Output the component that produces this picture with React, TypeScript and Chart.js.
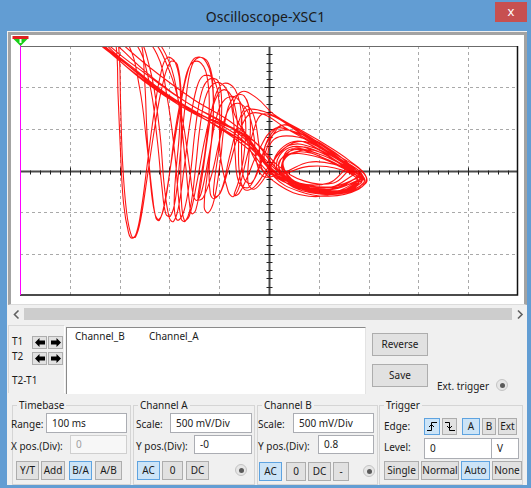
import React, { useEffect, useRef } from 'react';
import { Chart, registerables } from 'chart.js';
Chart.register(...registerables);

type P = [number, number];

// Axis range in divisions (B/A mode: x = Channel A, y = Channel B)
const xRange: P = [-5, 5];
const yRange: P = [-3, 3];
const xGridDivs = [-4, -3, -2, -1, 1, 2, 3, 4];
const yGridDivs = [-2, -1, 1, 2];

const orbit1: P[] = [[1.85,-0.2],[1.3,-0.45],[0.6,-0.35],[0.0,0.05],[-0.35,0.6],[-0.9,1.15],[-1.6,1.6],[-2.3,2.2],[-2.9,2.85],[-3.3,3.4],[-3.15,3.8],[-3.02,3.0],[-2.98,1.6],[-2.94,0.2],[-2.86,-1.0],[-2.76,-1.58],[-2.68,-1.6],[-2.58,-1.2],[-2.45,-0.2],[-2.3,1.0],[-2.15,2.0],[-1.98,2.62],[-1.84,2.55],[-1.76,1.7],[-1.77,0.4],[-1.76,-0.7],[-1.7,-1.2],[-1.6,-1.1],[-1.45,-0.3],[-1.28,0.8],[-1.08,1.7],[-0.9,1.95],[-0.72,1.7],[-0.62,0.9],[-0.6,0.0],[-0.5,-0.45],[-0.3,-0.4],[0.0,0.1],[0.4,0.6],[0.9,0.55],[1.4,0.2],[1.8,-0.1],[1.75,-0.35],[1.2,-0.5],[0.5,-0.3],[0.1,0.2],[0.5,0.7],[1.1,0.45],[1.7,0.0],[1.9,-0.22]];
const orbit2: P[] = [[1.9,-0.22],[1.4,-0.5],[0.7,-0.45],[0.1,-0.1],[-0.25,0.5],[-0.7,1.0],[-1.4,1.35],[-2.1,1.85],[-2.8,2.5],[-3.4,3.1],[-3.6,3.5],[-3.3,3.6],[-2.85,3.1],[-2.6,2.0],[-2.45,0.6],[-2.35,-0.5],[-2.27,-1.15],[-2.2,-1.2],[-2.1,-0.8],[-1.95,0.3],[-1.8,1.4],[-1.65,2.3],[-1.5,2.7],[-1.3,2.68],[-1.15,2.2],[-1.12,1.2],[-1.2,0.1],[-1.18,-0.55],[-1.1,-0.68],[-0.95,-0.45],[-0.8,0.3],[-0.6,1.2],[-0.45,1.55],[-0.3,1.3],[-0.2,0.6],[-0.12,0.0],[0.2,-0.1],[0.8,0.1],[1.5,0.0],[1.8,-0.3],[1.4,-0.55],[0.7,-0.4],[0.3,0.0],[0.4,0.5],[1.0,0.4],[1.6,0.05],[1.85,-0.15]];
const orbit3: P[] = [[1.85,-0.15],[1.2,-0.4],[0.4,-0.2],[-0.1,0.3],[-0.5,0.85],[-1.2,1.25],[-2.0,1.75],[-2.7,2.35],[-3.3,2.95],[-3.7,3.4],[-3.4,3.6],[-2.7,3.3],[-2.4,2.5],[-2.2,1.0],[-2.1,-0.4],[-2.0,-1.15],[-1.92,-1.23],[-1.82,-0.9],[-1.7,0.1],[-1.58,1.2],[-1.45,2.0],[-1.32,2.28],[-1.12,2.22],[-1.0,1.6],[-0.98,0.4],[-0.82,-0.5],[-0.72,-0.63],[-0.6,-0.4],[-0.45,0.3],[-0.3,1.0],[-0.15,1.35],[0.1,1.3],[0.5,1.0],[1.0,0.6],[1.5,0.2],[1.88,-0.2],[1.5,-0.5],[0.9,-0.5],[0.4,-0.25],[0.2,0.2],[0.6,0.45],[1.2,0.25],[1.7,-0.1]];
const orbit4: P[] = [[1.7,-0.1],[1.25,-0.4],[0.6,-0.35],[0.05,0.05],[-0.35,0.55],[-1.0,1.05],[-1.7,1.5],[-2.4,2.05],[-3.1,2.75],[-3.5,3.2],[-3.45,3.6],[-2.7,3.4],[-2.25,2.8],[-2.05,1.8],[-1.9,0.5],[-1.82,-0.6],[-1.76,-1.18],[-1.68,-1.22],[-1.58,-0.9],[-1.48,0.0],[-1.38,1.1],[-1.25,1.85],[-1.05,2.12],[-0.85,1.95],[-0.72,1.3],[-0.68,0.4],[-0.6,-0.3],[-0.4,-0.4],[-0.2,0.1],[0.0,0.8],[0.3,1.1],[0.7,0.85],[1.2,0.45],[1.7,0.05],[1.92,-0.25],[1.6,-0.48],[1.0,-0.5],[0.5,-0.3],[0.25,0.1],[0.55,0.55],[1.1,0.4],[1.6,0.0]];
const orbit5: P[] = [[1.6,0.0],[1.3,-0.3],[0.7,-0.25],[0.2,0.1],[-0.2,0.6],[-0.8,1.2],[-1.5,1.7],[-2.2,2.3],[-2.9,3.0],[-3.3,3.5],[-3.0,3.6],[-2.4,3.3],[-2.0,2.6],[-1.8,1.5],[-1.68,0.2],[-1.6,-0.75],[-1.55,-1.04],[-1.47,-0.95],[-1.35,-0.2],[-1.22,0.9],[-1.08,1.8],[-0.9,2.1],[-0.68,1.95],[-0.55,1.3],[-0.55,0.4],[-0.5,-0.2],[-0.35,-0.3],[-0.15,0.2],[0.1,0.9],[0.35,1.1],[0.8,0.8],[1.3,0.4],[1.75,-0.05],[1.85,-0.3],[1.3,-0.55],[0.7,-0.45],[0.3,-0.1],[0.35,0.35],[0.9,0.35],[1.5,0.05],[1.8,-0.15]];
const orbit6: P[] = [[1.8,-0.15],[1.3,-0.45],[0.6,-0.4],[0.0,-0.05],[-0.4,0.5],[-1.1,1.1],[-1.9,1.65],[-2.6,2.3],[-3.2,2.9],[-3.6,3.3],[-3.3,3.55],[-2.7,3.1],[-2.4,2.1],[-2.25,0.8],[-2.15,-0.4],[-2.07,-1.05],[-1.98,-1.1],[-1.88,-0.7],[-1.78,0.4],[-1.68,1.6],[-1.57,2.45],[-1.42,2.72],[-1.22,2.6],[-1.12,1.9],[-1.15,0.8],[-1.25,-0.2],[-1.3,-0.9],[-1.22,-1.02],[-1.1,-0.7],[-0.98,0.2],[-0.88,1.2],[-0.72,1.75],[-0.5,1.8],[-0.38,1.3],[-0.4,0.4],[-0.42,-0.3],[-0.3,-0.45],[-0.1,-0.2],[0.2,0.4],[0.6,0.7],[1.1,0.5],[1.6,0.1],[1.9,-0.2]];
const orbit7: P[] = [[1.9,-0.2],[1.4,-0.4],[0.8,-0.38],[0.2,-0.1],[-0.25,0.4],[-0.7,0.9],[-1.3,1.3],[-2.0,1.8],[-2.7,2.45],[-3.2,2.95],[-3.45,3.4],[-3.25,3.7],[-3.08,3.1],[-3.03,1.8],[-2.98,0.4],[-2.92,-0.8],[-2.82,-1.5],[-2.75,-1.63],[-2.66,-1.5],[-2.56,-0.9],[-2.45,0.1],[-2.32,1.3],[-2.18,2.3],[-2.05,2.72],[-1.88,2.6],[-1.78,1.9],[-1.8,0.9],[-1.88,-0.2],[-1.9,-0.95],[-1.83,-1.2],[-1.7,-0.95],[-1.58,-0.1],[-1.48,1.0],[-1.35,1.9],[-1.2,2.2],[-1.02,2.15],[-0.95,1.6],[-1.0,0.6],[-1.1,-0.3],[-1.1,-0.62],[-0.98,-0.55],[-0.8,0.1],[-0.6,0.9],[-0.4,1.35],[-0.1,1.35],[0.3,1.05],[0.8,0.7],[1.3,0.35],[1.8,0.0],[1.9,-0.3],[1.4,-0.55],[0.8,-0.5],[0.35,-0.25],[0.2,0.15],[0.5,0.5],[1.0,0.35],[1.55,0.05]];
const orbit8: P[] = [[1.55,0.05],[1.2,-0.3],[0.6,-0.3],[0.15,0.05],[-0.3,0.7],[-1.0,1.2],[-1.8,1.75],[-2.5,2.35],[-3.1,2.9],[-3.4,3.3],[-3.1,3.5],[-2.4,3.2],[-2.0,2.4],[-1.75,1.3],[-1.6,0.1],[-1.52,-0.6],[-1.45,-0.72],[-1.35,-0.5],[-1.2,0.4],[-1.05,1.3],[-0.88,1.72],[-0.65,1.75],[-0.48,1.3],[-0.5,0.4],[-0.62,-0.3],[-0.7,-0.6],[-0.6,-0.55],[-0.45,-0.2],[-0.2,0.5],[0.1,1.0],[0.45,0.95],[0.9,0.65],[1.4,0.3],[1.82,-0.1],[1.7,-0.4],[1.1,-0.5],[0.5,-0.3],[0.15,0.1],[0.4,0.55],[1.0,0.45],[1.5,0.1],[1.85,-0.2]];
const orbit9: P[] = [[1.85,-0.2],[1.35,-0.5],[0.75,-0.42],[0.15,-0.05],[-0.3,0.5],[-0.95,1.0],[-1.65,1.5],[-2.35,2.1],[-3.0,2.7],[-3.35,3.1],[-3.3,3.4],[-2.9,3.5],[-2.6,3.2],[-2.5,2.2],[-2.45,0.9],[-2.38,-0.3],[-2.3,-1.0],[-2.22,-1.18],[-2.12,-0.95],[-2.0,-0.1],[-1.88,1.0],[-1.72,2.0],[-1.58,2.55],[-1.4,2.62],[-1.25,2.3],[-1.2,1.5],[-1.28,0.5],[-1.4,-0.4],[-1.42,-0.7],[-1.32,-0.65],[-1.15,-0.1],[-0.98,0.8],[-0.82,1.45],[-0.62,1.62],[-0.42,1.4],[-0.3,0.8],[-0.25,0.2],[-0.1,-0.15],[0.3,-0.05],[0.8,0.2],[1.3,0.15],[1.75,-0.12],[1.65,-0.42],[1.0,-0.45],[0.45,-0.2],[0.3,0.25],[0.8,0.5],[1.4,0.2],[1.8,-0.15]];
const orbit10: P[] = [[1.8,-0.15],[1.25,-0.45],[0.6,-0.38],[0.05,0.0],[-0.3,0.6],[-0.55,1.1],[-0.45,1.45],[-0.1,1.42],[0.4,1.1],[0.9,0.75],[1.4,0.35],[1.85,0.0],[1.95,-0.3],[1.5,-0.55],[0.9,-0.55],[0.35,-0.3],[0.0,0.2],[0.1,0.75],[0.6,0.8],[1.1,0.5],[1.6,0.1],[1.88,-0.18]];
const orbit11: P[] = [[1.88,-0.18],[1.45,-0.5],[0.8,-0.62],[0.2,-0.35],[-0.25,0.2],[-0.5,0.9],[-0.72,1.5],[-0.55,1.9],[-0.25,1.75],[0.1,1.35],[0.6,1.0],[1.1,0.65],[1.6,0.25],[1.95,-0.15],[1.8,-0.45],[1.2,-0.62],[0.6,-0.5],[0.1,-0.15],[-0.1,0.45],[0.2,0.95],[0.7,0.85],[1.3,0.45],[1.85,-0.1]];

const orbits = [orbit1, orbit2, orbit3, orbit4, orbit5, orbit6, orbit7, orbit8, orbit9, orbit10, orbit11];

const FONT = '"Noto Sans", "DejaVu Sans", sans-serif';

const scopePlugin = {
  id: 'scopeDecor',
  beforeDatasetsDraw(chart: any) {
    const { ctx, chartArea, scales } = chart;
    const { left, right, top, bottom } = chartArea;
    const x = scales.x, y = scales.y;
    ctx.save();
    ctx.strokeStyle = '#a9a9a9';
    ctx.lineWidth = 1;
    ctx.setLineDash([3, 3]);
    xGridDivs.forEach((v) => {
      const px = Math.round(x.getPixelForValue(v)) + 0.5;
      ctx.beginPath(); ctx.moveTo(px, top); ctx.lineTo(px, bottom); ctx.stroke();
    });
    yGridDivs.forEach((v) => {
      const py = Math.round(y.getPixelForValue(v)) + 0.5;
      ctx.beginPath(); ctx.moveTo(left, py); ctx.lineTo(right, py); ctx.stroke();
    });
    ctx.setLineDash([]);
    const cx = Math.round(x.getPixelForValue(0)) + 0.5;
    const cy = Math.round(y.getPixelForValue(0)) + 0.5;
    ctx.strokeStyle = '#4a4a4a';
    ctx.lineWidth = 2;
    ctx.beginPath(); ctx.moveTo(left, cy); ctx.lineTo(right, cy); ctx.stroke();
    ctx.beginPath(); ctx.moveTo(cx, top); ctx.lineTo(cx, bottom); ctx.stroke();
    ctx.strokeStyle = '#222';
    ctx.lineWidth = 1;
    for (let i = xRange[0] * 5 + 1; i < xRange[1] * 5; i++) {
      const px = Math.round(x.getPixelForValue(i / 5)) + 0.5;
      const major = i % 5 === 0;
      ctx.beginPath(); ctx.moveTo(px, cy - (major ? 4 : 1)); ctx.lineTo(px, cy + (major ? 4 : 3)); ctx.stroke();
    }
    for (let i = yRange[0] * 5 + 1; i < yRange[1] * 5; i++) {
      const py = Math.round(y.getPixelForValue(i / 5)) + 0.5;
      const major = i % 5 === 0;
      ctx.beginPath(); ctx.moveTo(cx - (major ? 5 : 3), py); ctx.lineTo(cx + (major ? 5 : 3), py); ctx.stroke();
    }
    ctx.restore();
  },
  afterDatasetsDraw(chart: any) {
    const { ctx, chartArea } = chart;
    const { left, right, top, bottom } = chartArea;
    ctx.save();
    ctx.lineWidth = 1;
    ctx.strokeStyle = '#6b6b6b';
    ctx.beginPath(); ctx.moveTo(left, top + 0.5); ctx.lineTo(right, top + 0.5); ctx.stroke();
    ctx.strokeStyle = '#111';
    ctx.lineWidth = 1.5;
    ctx.beginPath(); ctx.moveTo(right - 0.5, top); ctx.lineTo(right - 0.5, bottom); ctx.lineTo(left, bottom); ctx.stroke();
    // T1 cursor
    ctx.strokeStyle = '#ff00ff';
    ctx.lineWidth = 1;
    ctx.beginPath(); ctx.moveTo(left + 0.5, top - 1); ctx.lineTo(left + 0.5, bottom); ctx.stroke();
    // cursor marker
    const mx = left + 0.5;
    ctx.fillStyle = '#e02020';
    ctx.fillRect(mx - 8, top - 10, 16, 3);
    ctx.fillStyle = '#18d018';
    ctx.beginPath(); ctx.moveTo(mx - 7, top - 7); ctx.lineTo(mx + 7, top - 7); ctx.lineTo(mx, top); ctx.closePath(); ctx.fill();
    ctx.fillStyle = '#ffffff';
    ctx.fillRect(mx - 1, top - 7, 2, 4);
    ctx.restore();
  },
};

function ScopeChart() {
  const ref = useRef<HTMLCanvasElement>(null);
  useEffect(() => {
    const data = ([] as P[]).concat(...orbits).map(([a, b]) => ({ x: a, y: b }));
    const chart = new Chart(ref.current!, {
      type: 'scatter',
      data: {
        datasets: [{
          data,
          showLine: true,
          borderColor: 'rgba(255,0,0,0.92)',
          borderWidth: 1.1,
          pointRadius: 0,
          tension: 0.4,
        }],
      },
      options: {
        responsive: false,
        animation: false,
        devicePixelRatio: 1,
        layout: { padding: { left: 9, top: 11, right: 6, bottom: 9 } },
        plugins: { legend: { display: false }, tooltip: { enabled: false } },
        events: [],
        scales: {
          x: { type: 'linear', display: false, min: xRange[0], max: xRange[1] },
          y: { type: 'linear', display: false, min: yRange[0], max: yRange[1] },
        },
      },
      plugins: [scopePlugin],
    });
    return () => chart.destroy();
  }, []);
  return <canvas ref={ref} width={513} height={269} style={{ position: 'absolute', left: 11, top: 35, width: 513, height: 269 }} />;
}

const abs = (x: number, y: number, w?: number, h?: number): React.CSSProperties => ({
  position: 'absolute', left: x, top: y, width: w, height: h, boxSizing: 'border-box',
});

function L({ x, y, t, c }: { x: number; y: number; t: string; c?: string }) {
  return <div style={{ ...abs(x, y - 7), lineHeight: '14px', whiteSpace: 'nowrap', color: c || '#1b1b1b' }}>{t}</div>;
}

function Btn({ x, y, w, h, t, sel, children }: any) {
  return (
    <div style={{ ...abs(x, y, w, h), border: `1px solid ${sel ? '#5ea3e0' : '#adadad'}`, background: sel ? '#cce4f7' : '#e1e1e1', textAlign: 'center', lineHeight: `${h - 2}px`, color: '#1b1b1b', whiteSpace: 'nowrap', overflow: 'hidden' }}>
      {children || t}
    </div>
  );
}

function Inp({ x, y, w, h, t, dis }: any) {
  return (
    <div style={{ ...abs(x, y, w, h), border: `1px solid ${dis ? '#cfcfcf' : '#abadb3'}`, background: dis ? '#f7f7f7' : '#fff', lineHeight: `${h - 2}px`, paddingLeft: 5, color: dis ? '#a0a0a0' : '#1b1b1b' }}>{t}</div>
  );
}

function Group({ x, y, w, h, t }: any) {
  return (
    <>
      <div style={{ ...abs(x, y, w, h), border: '1px solid #d5d5d5' }} />
      <div style={{ ...abs(x + 5, y - 7), lineHeight: '14px', background: '#f0f0f0', padding: '0 2px', color: '#1b1b1b' }}>{t}</div>
    </>
  );
}

function Radio({ x, y }: { x: number; y: number }) {
  return (
    <div style={{ ...abs(x - 6, y - 6, 12, 12), borderRadius: 6, border: '1px solid #c4c4c4', background: '#e6e6e6' }}>
      <div style={{ ...abs(2.5, 2.5, 5, 5), borderRadius: 3, background: '#5a5a5a' }} />
    </div>
  );
}

function Arrow({ dir }: { dir: number }) {
  return (
    <svg width="10" height="9" viewBox="0 0 10 9" style={{ marginTop: 1 }}>
      {dir < 0
        ? <path d="M0 4.5 L4.5 0 L4.5 2.5 L10 2.5 L10 6.5 L4.5 6.5 L4.5 9 Z" fill="#000" />
        : <path d="M10 4.5 L5.5 0 L5.5 2.5 L0 2.5 L0 6.5 L5.5 6.5 L5.5 9 Z" fill="#000" />}
    </svg>
  );
}

function Edge({ rise }: { rise: boolean }) {
  return (
    <svg width="10" height="11" viewBox="0 0 10 11" style={{ marginTop: 2 }}>
      {rise
        ? <path d="M0 9.5 H4.5 V1.5 H10 M2 6 L4.5 3.5 L7 6" stroke="#000" fill="none" strokeWidth="1" />
        : <path d="M0 1.5 H4.5 V9.5 H10 M2 5 L4.5 7.5 L7 5" stroke="#000" fill="none" strokeWidth="1" />}
    </svg>
  );
}

export default function App() {
  return (
    <div style={{ position: 'absolute', left: 0, top: 0, width: 531, height: 488, background: '#629dd3', overflow: 'hidden', fontFamily: FONT, fontSize: 10 }}>
      <div style={{ ...abs(0, 6, 531, 22), textAlign: 'center', fontSize: 14, lineHeight: '22px', color: '#1a1a1a' }}>Oscilloscope-XSC1</div>
      <div style={{ ...abs(495, 2, 32, 20), background: '#c75050', color: '#fff', textAlign: 'center', fontSize: 13, lineHeight: '19px' }}>x</div>
      <div style={{ ...abs(7, 31, 520, 454), background: '#f0f0f0' }} />
      <div style={{ ...abs(8, 32, 519, 273), background: '#fff', borderTop: '3px solid #a3a3a3', borderLeft: '3px solid #a3a3a3', borderRight: '3px solid #a3a3a3', borderBottom: '1px solid #dcdcdc' }} />
      <ScopeChart />
      {/* scrollbar */}
      <svg style={{ position: 'absolute', left: 12, top: 309 }} width="10" height="11"><path d="M6.5 1.5 L2.5 5.5 L6.5 9.5" stroke="#606060" strokeWidth="1.6" fill="none" /></svg>
      <div style={{ ...abs(24, 308, 488, 12), background: '#cdcdcd' }} />
      <svg style={{ position: 'absolute', left: 515, top: 309 }} width="10" height="11"><path d="M3 1.5 L7 5.5 L3 9.5" stroke="#606060" strokeWidth="1.6" fill="none" /></svg>
      {/* cursor box */}
      <div style={{ ...abs(8, 325, 57, 68), borderTop: '1px solid #d8d8d8', borderLeft: '1px solid #d8d8d8', borderRight: '1px solid #ffffff' }} />
      <L x={12} y={341} t="T1" />
      <Btn x={32} y={336} w={15} h={13}><Arrow dir={-1} /></Btn>
      <Btn x={48} y={336} w={15} h={13}><Arrow dir={1} /></Btn>
      <L x={12} y={356} t="T2" />
      <Btn x={32} y={352} w={15} h={13}><Arrow dir={-1} /></Btn>
      <Btn x={48} y={352} w={15} h={13}><Arrow dir={1} /></Btn>
      <L x={12} y={380} t="T2-T1" />
      {/* readout */}
      <div style={{ ...abs(66, 327, 300, 67), background: '#fff', borderTop: '1px solid #8a8a8a', borderLeft: '1px solid #8a8a8a', borderRight: '1px solid #e3e3e3' }} />
      <L x={75} y={336} t="Channel_B" />
      <L x={149} y={336} t="Channel_A" />
      <Btn x={372} y={333} w={56} h={23} t="Reverse" />
      <Btn x={372} y={364} w={56} h={23} t="Save" />
      <L x={437} y={386} t="Ext. trigger" />
      <Radio x={502} y={385} />
      {/* Timebase */}
      <Group x={12} y={405} w={119} h={80} t="Timebase" />
      <L x={11} y={424} t="Range:" />
      <Inp x={46} y={413} w={81} h={20} t="100 ms" />
      <L x={11} y={446} t="X pos.(Div):" />
      <Inp x={70} y={435} w={57} h={19} t="0" dis />
      <Btn x={16} y={461} w={23} h={19} t="Y/T" />
      <Btn x={41} y={461} w={24} h={19} t="Add" />
      <Btn x={69} y={461} w={23} h={19} t="B/A" sel />
      <Btn x={95} y={461} w={27} h={19} t="A/B" />
      {/* Channel A */}
      <Group x={133} y={405} w={122} h={80} t="Channel A" />
      <L x={136} y={424} t="Scale:" />
      <Inp x={170} y={413} w={82} h={20} t="500 mV/Div" />
      <L x={136} y={446} t="Y pos.(Div):" />
      <Inp x={194} y={435} w={58} h={19} t="-0" />
      <Btn x={137} y={461} w={23} h={19} t="AC" sel />
      <Btn x={162} y={461} w={21} h={19} t="0" />
      <Btn x={186} y={461} w={23} h={19} t="DC" />
      <Radio x={241} y={470} />
      {/* Channel B */}
      <Group x={257} y={405} w={121} h={80} t="Channel B" />
      <L x={258} y={424} t="Scale:" />
      <Inp x={293} y={413} w={81} h={20} t="500 mV/Div" />
      <L x={258} y={446} t="Y pos.(Div):" />
      <Inp x={318} y={435} w={56} h={19} t="0.8" />
      <Btn x={259} y={462} w={23} h={19} t="AC" sel />
      <Btn x={286} y={462} w={20} h={19} t="0" />
      <Btn x={308} y={462} w={23} h={19} t="DC" />
      <Btn x={333} y={462} w={16} h={19} t="-" />
      <Radio x={369} y={471} />
      {/* Trigger */}
      <Group x={379} y={405} w={144} h={80} t="Trigger" />
      <L x={384} y={426} t="Edge:" />
      <Btn x={424} y={418} w={16} h={17} sel><Edge rise /></Btn>
      <Btn x={442} y={418} w={15} h={17}><Edge rise={false} /></Btn>
      <Btn x={462} y={418} w={18} h={17} t="A" sel />
      <Btn x={482} y={418} w={14} h={17} t="B" />
      <Btn x={498} y={418} w={19} h={17} t="Ext" />
      <L x={384} y={447} t="Level:" />
      <Inp x={424} y={438} w={68} h={21} t="0" />
      <Inp x={491} y={438} w={28} h={21} t="V" />
      <Btn x={384} y={461} w={35} h={19} t="Single" />
      <Btn x={421} y={461} w={38} h={19} t="Normal" />
      <Btn x={461} y={461} w={29} h={19} t="Auto" sel />
      <Btn x={492} y={461} w={30} h={19} t="None" />
    </div>
  );
}
